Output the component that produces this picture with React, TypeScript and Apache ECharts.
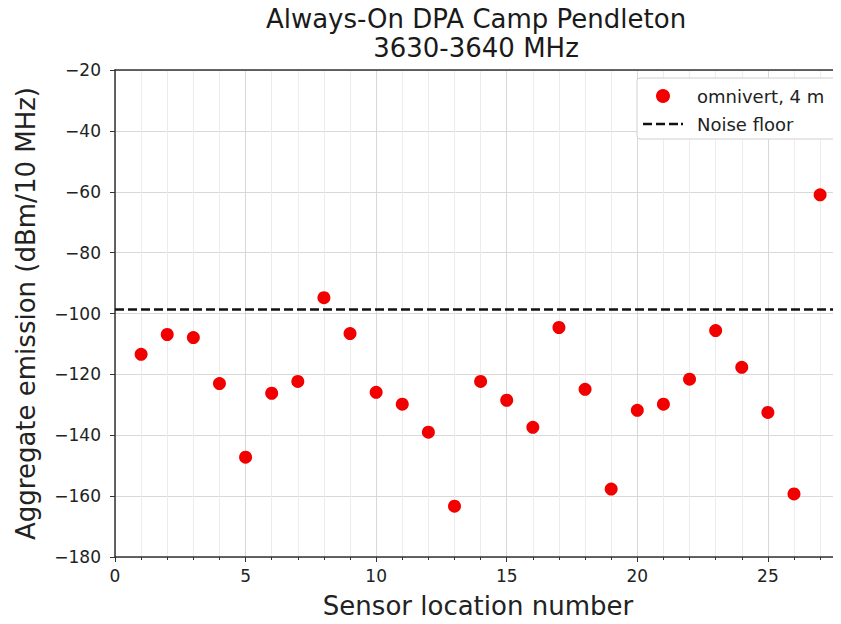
import React, { useEffect, useRef } from "react";
import * as echarts from "echarts";

const sensorIds = [1, 2, 3, 4, 5, 6, 7, 8, 9, 10, 11, 12, 13, 14, 15, 16, 17, 18, 19, 20, 21, 22, 23, 24, 25, 26, 27];
const emissions = [
  -113.4, -106.9, -107.9, -123.0, -147.2, -126.2, -122.3, -94.8, -106.6, -125.9,
  -129.8, -139.0, -163.3, -122.3, -128.5, -137.4, -104.6, -124.9, -157.7, -131.8,
  -129.8, -121.6, -105.6, -117.7, -132.5, -159.3, -61.0,
];
const noiseFloor = -98.7;
const xRange = [0, 27.8];
const yRange = [-180, -20];
const titleLines = ["Always-On DPA Camp Pendleton", "3630-3640 MHz"];
const seriesNames = ["omnivert, 4 m", "Noise floor"];

const FONT = "DejaVu Sans";
const DASH_ICON =
  "path://M0,0h0.01v0.01h-0.01zM39.99,13.99h0.01v0.01h-0.01z" +
  "M0,5.75h9v2.5h-9zM13,5.75h9v2.5h-9zM26,5.75h9v2.5h-9zM38,5.75h2v2.5h-2z";

export default function App() {
  const ref = useRef<HTMLDivElement>(null);
  useEffect(() => {
    if (!ref.current) return;
    const chart = echarts.init(ref.current, null, { renderer: "svg" });
    chart.setOption({
      animation: false,
      textStyle: { fontFamily: FONT },
      title: {
        text: titleLines.join("\n"),
        left: 476,
        textAlign: "center",
        top: 4,
        padding: 0,
        textStyle: { fontFamily: FONT, fontSize: 26, fontWeight: "normal", color: "#1a1a1a", lineHeight: 29 },
      },
      legend: {
        orient: "vertical",
        left: 637,
        top: 78,
        backgroundColor: "#fff",
        borderColor: "#d0d0d0",
        borderWidth: 1,
        borderRadius: 3,
        padding: [9, 30, 6, 6],
        itemGap: 10,
        itemWidth: 40,
        itemHeight: 14,
        textStyle: { fontFamily: FONT, fontSize: 18, color: "#222", padding: [0, 0, 0, 9] },
        data: [
          { name: seriesNames[0], icon: "circle" },
          { name: seriesNames[1], icon: DASH_ICON, itemStyle: { color: "#111" } },
        ],
      },
      grid: {
        left: 115,
        right: 0,
        top: 70,
        bottom: 66,
        show: false,
      },
      xAxis: [
        {
          type: "value",
          min: xRange[0],
          max: xRange[1],
          interval: 5,
          name: "Sensor location number",
          nameLocation: "middle",
          nameGap: 36,
          nameTextStyle: { fontFamily: FONT, fontSize: 26, color: "#222" },
          axisLine: { show: true, onZero: false, lineStyle: { color: "#333", width: 1.5 } },
          axisTick: { show: true, inside: false, length: 5, lineStyle: { color: "#333" } },
          minorTick: { show: true, splitNumber: 5, length: 3, lineStyle: { color: "#333" } },
          axisLabel: { fontFamily: FONT, fontSize: 17, color: "#222", margin: 10, showMaxLabel: false },
          splitLine: { show: true, lineStyle: { color: "#d8d8d8", width: 1 } },
          minorSplitLine: { show: true, lineStyle: { color: "#ececec", width: 1 } },
        },
        {
          type: "value",
          position: "top",
          min: xRange[0],
          max: xRange[1],
          interval: 5,
          axisLine: { show: true, onZero: false, lineStyle: { color: "#333", width: 1.5 } },
          axisTick: { show: false },
          axisLabel: { show: false },
          splitLine: { show: false },
        },
      ],
      yAxis: {
        type: "value",
        min: yRange[0],
        max: yRange[1],
        interval: 20,
        name: "Aggregate emission (dBm/10 MHz)",
        nameLocation: "middle",
        nameGap: 76,
        nameTextStyle: { fontFamily: FONT, fontSize: 26, color: "#222" },
        axisLine: { show: true, onZero: false, lineStyle: { color: "#333", width: 1.5 } },
        axisTick: { show: true, inside: false, length: 5, lineStyle: { color: "#333" } },
        axisLabel: {
          fontFamily: FONT,
          fontSize: 17,
          color: "#222",
          margin: 14,
          formatter: (v: number) => String(v).replace("-", "\u2212"),
        },
        splitLine: { show: true, lineStyle: { color: "#d8d8d8", width: 1 } },
      },
      series: [
        {
          name: seriesNames[0],
          type: "scatter",
          xAxisIndex: 0,
          data: sensorIds.map((x, i) => [x, emissions[i]]),
          symbol: "circle",
          symbolSize: 13,
          itemStyle: { color: "#f20000", opacity: 1 },
          z: 3,
        },
        {
          name: seriesNames[1],
          type: "line",
          xAxisIndex: 0,
          data: [
            [xRange[0], noiseFloor],
            [xRange[1], noiseFloor],
          ],
          symbol: "none",
          lineStyle: { color: "#111", width: 2.5, type: [9, 4] },
          itemStyle: { color: "#111" },
          z: 2,
        },
      ],
    });
    return () => chart.dispose();
  }, []);
  return <div ref={ref} style={{ width: 841, height: 624, margin: -8 }} />;
}
